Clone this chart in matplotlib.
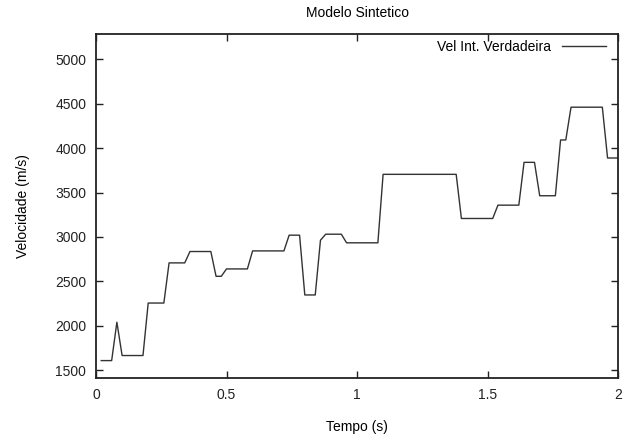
import matplotlib
matplotlib.use("Agg")
import matplotlib.pyplot as plt

plt.rcParams['font.family'] = ['Liberation Sans', 'DejaVu Sans']

tempo = [0.02, 0.06, 0.08, 0.10, 0.18, 0.20, 0.26, 0.28, 0.34, 0.36, 0.44, 0.46,
         0.48, 0.50, 0.58, 0.60, 0.72, 0.74, 0.78, 0.80, 0.84, 0.86, 0.88, 0.94,
         0.96, 1.08, 1.10, 1.38, 1.40, 1.52, 1.54, 1.62, 1.64, 1.68, 1.70, 1.76,
         1.78, 1.80, 1.82, 1.94, 1.96, 2.00]
velocidade = [1608, 1608, 2040, 1665, 1665, 2256, 2256, 2708, 2708, 2836, 2836, 2557,
              2557, 2640, 2640, 2843, 2843, 3020, 3020, 2347, 2347, 2963, 3031, 3031,
              2934, 2934, 3705, 3705, 3208, 3208, 3358, 3358, 3840, 3840, 3464, 3464,
              4092, 4092, 4461, 4461, 3889, 3889]

xticks = [0, 0.5, 1, 1.5, 2]
xticklabels = ['0', '0.5', '1', '1.5', '2']
yticks = [1500, 2000, 2500, 3000, 3500, 4000, 4500, 5000]

fig = plt.figure(figsize=(6.34, 4.4), dpi=100)
ax = fig.add_axes([96/634, 1-378/440, (618-96)/634, (378-34)/440])

ax.plot(tempo, velocidade, color='#333333', linewidth=1.0, label='Vel Int. Verdadeira')

ax.set_xlim(0, 2)
ax.set_ylim(1412, 5285)
ax.set_xticks(xticks)
ax.set_xticklabels(xticklabels)
ax.set_yticks(yticks)
ax.tick_params(direction='in', top=True, right=True, length=5, width=1.0,
               labelsize=10, colors='#222222', pad=7)
for s in ax.spines.values():
    s.set_linewidth(1.3)
    s.set_color('#222222')

ax.set_title('Modelo Sintetico', fontsize=10, pad=12)
ax.set_xlabel('Tempo (s)', fontsize=10, labelpad=13)
ax.set_ylabel('Velocidade (m/s)', fontsize=10, labelpad=18)

ax.legend(loc='upper right', bbox_to_anchor=(1.0, 1.0 + 7/344), frameon=False,
          markerfirst=False, fontsize=10,
          handlelength=3.1, borderaxespad=0.5, handletextpad=0.8)

fig.savefig('out.png', dpi=100)
